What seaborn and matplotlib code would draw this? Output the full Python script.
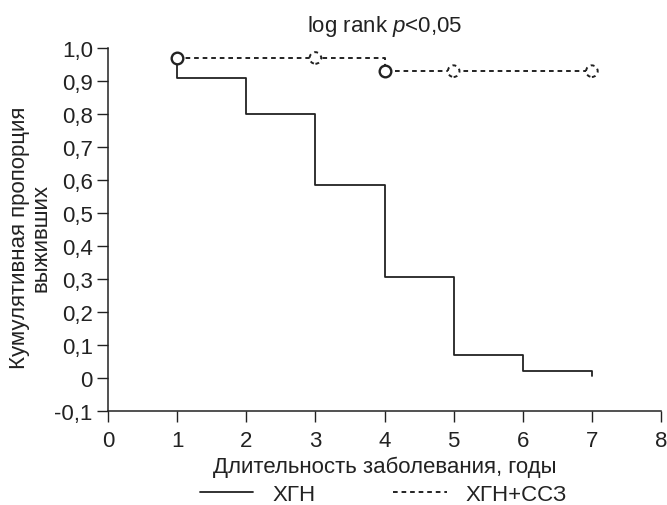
import numpy as np
import pandas as pd
import seaborn as sns
import matplotlib.pyplot as plt
from matplotlib.lines import Line2D

# survival curves (years, cumulative proportion)
time_xgn = [1, 1, 2, 3, 4, 5, 6, 7, 7]
surv_xgn = [0.97, 0.91, 0.80, 0.585, 0.305, 0.07, 0.02, 0.02, 0.005]

time_ssz = [1, 4, 4, 7]
surv_ssz = [0.97, 0.97, 0.93, 0.93]

# event marks (open circles) and censored marks (dashed circles)
event_t = [1, 4]
event_s = [0.97, 0.93]
cens_t = [3, 5, 7]
cens_s = [0.97, 0.93, 0.93]

yticks = [-0.1, 0, 0.1, 0.2, 0.3, 0.4, 0.5, 0.6, 0.7, 0.8, 0.9, 1.0]
ytick_labels = ["-0,1", "0", "0,1", "0,2", "0,3", "0,4", "0,5", "0,6", "0,7", "0,8", "0,9", "1,0"]
xticks = [0, 1, 2, 3, 4, 5, 6, 7, 8]

sns.set_style("ticks")
plt.rcParams['font.family'] = ['Liberation Sans', 'DejaVu Sans']
plt.rcParams['mathtext.fontset'] = 'custom'
plt.rcParams['mathtext.rm'] = 'Liberation Sans'
plt.rcParams['mathtext.it'] = 'Liberation Sans:italic'

fs = 16
col = "#222222"
dash = (0, (2.4, 2.0))

fig = plt.figure(figsize=(6.67, 5.06), dpi=100)
ax = fig.add_axes([0.162, 0.186, 0.829, 0.717])

df1 = pd.DataFrame(dict(t=time_xgn, s=surv_xgn))
df2 = pd.DataFrame(dict(t=time_ssz, s=surv_ssz))
sns.lineplot(data=df1, x="t", y="s", ax=ax, estimator=None, sort=False,
             drawstyle="steps-post", color=col, lw=1.3)
sns.lineplot(data=df2, x="t", y="s", ax=ax, estimator=None, sort=False,
             drawstyle="steps-post", color=col, lw=1.4, linestyle=dash)

ax.scatter(event_t, event_s, s=70, facecolor="white", edgecolor=col, lw=1.7, zorder=5, clip_on=False)
ax.scatter(cens_t, cens_s, s=70, facecolor="white", edgecolor=col, lw=1.4, zorder=5,
           linestyle=(0, (2, 2)), clip_on=False)

ax.set_xlim(0, 8)
ax.set_ylim(-0.1, 1.0)
ax.set_xticks(xticks)
ax.set_yticks(yticks)
ax.set_yticklabels(ytick_labels)
ax.tick_params(labelsize=fs, colors=col, length=8, width=1)
ax.tick_params(axis="x", pad=6)
ax.tick_params(axis="y", pad=3)
for sp in ["top", "right"]:
    ax.spines[sp].set_visible(False)
for sp in ["left", "bottom"]:
    ax.spines[sp].set_color(col)
    ax.spines[sp].set_linewidth(1.1)

ax.set_xlabel("Длительность заболевания, годы", fontsize=fs, color=col, labelpad=3)
ax.set_ylabel("Кумулятивная пропорция\nвыживших", fontsize=fs, color=col, linespacing=1.0)
ax.yaxis.set_label_coords(-0.103, 0.48)
ax.set_title("log rank $p$<0,05", fontsize=fs, color=col, pad=12)

handles = [Line2D([], [], color=col, lw=1.3),
           Line2D([], [], color=col, lw=1.4, linestyle=dash)]
fig.legend(handles, ["ХГН", "ХГН+ССЗ"], loc="center", bbox_to_anchor=(0.575, 0.021),
           ncol=2, frameon=False, fontsize=fs, handlelength=2.4, handletextpad=0.86,
           columnspacing=3.5, labelcolor=col, borderpad=0)

fig.savefig("out.png", dpi=100)
